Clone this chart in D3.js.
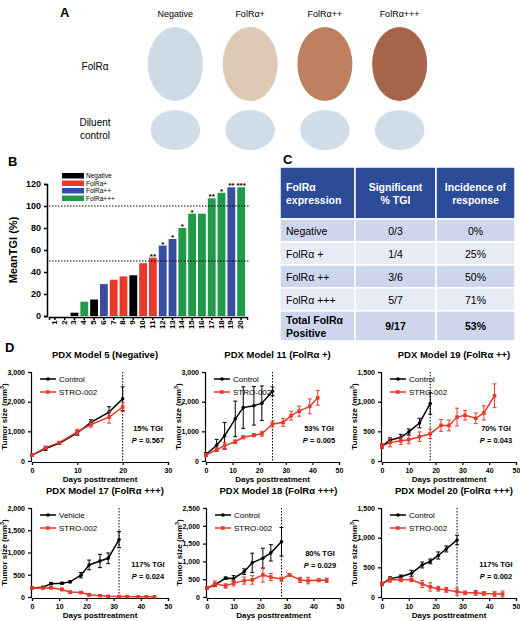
<!DOCTYPE html>
<html><head><meta charset="utf-8">
<script src="https://cdn.jsdelivr.net/npm/d3@7"></script>
<style>body{margin:0;background:#fff}text{font-family:"Liberation Sans",Arial,sans-serif}</style>
</head><body><svg id="fig" width="520" height="621"></svg>
<script>
// panel A
const stainCols = ["Negative", "FolR\u03b1+", "FolR\u03b1++", "FolR\u03b1+++"];
const stainColors = ["#c6d4e2", "#d8bfa8", "#b36b43", "#96492a"];
// panel B
const modelIds = d3.range(1, 21).map(String);
const meanTGI = [0,0,3,13,15,29,33,36,37,48,53,64,70,80,93,93,107,112,117,117];
const groups = ["Negative","Negative","Negative","FolRa+++","Negative","FolRa++","FolRa+","FolRa+","Negative","FolRa+","FolRa+","FolRa++","FolRa++","FolRa+++","FolRa+++","FolRa+++","FolRa+++","FolRa+++","FolRa++","FolRa+++"];
const stars = ["","","","","","","","","","","**","*","*","*","*","","**","*","**","***"];
const groupNames = ["Negative","FolRa+","FolRa++","FolRa+++"];
const groupColors = ["#000000","#e8392a","#3a4ea0","#1f9a48"];
// panel C
const tableHead = ["FolR\u03b1\nexpression","Significant\n% TGI","Incidence of\nresponse"];
const tableRows = [["Negative","0/3","0%"],["FolR\u03b1 +","1/4","25%"],["FolR\u03b1 ++","3/6","50%"],["FolR\u03b1 +++","5/7","71%"],["Total FolR\u03b1\nPositive","9/17","53%"]];
// panel D
const panels = [
 {title:"PDX Model 5 (Negative)", ymax:3000, ystep:1000, xmax:30, cut:20, names:["Control","STRO-002"], tgi:"15% TGI", p:"0.567",
  cd:[0,3,6,10,13,17,20], cv:[200,420,600,950,1300,1650,2100], ce:[30,60,40,80,90,180,400],
  sd:[0,3,6,10,13,17,20], sv:[200,450,620,980,1230,1480,1820], se:[30,50,40,90,90,200,150]},
 {title:"PDX Model 11 (FolR\u03b1 +)", ymax:3000, ystep:1000, xmax:50, cut:25, names:["Control","STRO-002"], tgi:"53% TGI", p:"0.005",
  cd:[0,4,7,11,14,18,21,25], cv:[220,530,850,1420,1800,1860,1950,2350], ce:[60,200,450,600,700,650,580,150],
  sd:[0,4,7,11,14,18,21,25,29,32,35,39,42], sv:[200,380,520,650,800,870,920,1250,1300,1530,1680,1840,2130], se:[50,60,100,60,50,50,80,100,130,150,170,250,250]},
 {title:"PDX Model 19 (FolR\u03b1 ++)", ymax:1500, ystep:500, xmax:50, cut:18, names:["Control","STRO-002"], tgi:"70% TGI", p:"0.043",
  cd:[0,3,7,10,14,18], cv:[250,350,400,490,640,970], ce:[30,40,50,50,80,180],
  sd:[0,3,7,10,14,18,22,25,28,31,35,38,42], sv:[250,310,340,360,410,460,600,600,740,770,720,810,1100], se:[40,70,60,70,80,80,100,90,150,80,90,120,200]},
 {title:"PDX Model 17 (FolR\u03b1 +++)", ymax:2000, ystep:500, xmax:50, cut:32, names:["Vehicle","STRO-002"], tgi:"117% TGI", p:"0.024",
  cd:[0,4,7,11,14,18,21,25,28,32], cv:[200,220,300,310,340,490,720,810,870,1290], ce:[20,20,20,20,20,60,110,150,120,180],
  sd:[0,4,7,11,14,18,21,25,28,32,35,39,42,45], sv:[200,200,210,170,110,100,50,30,15,10,10,5,5,5], se:[20,20,30,30,20,20,30,20,10,10,10,5,5,5]},
 {title:"PDX Model 18 (FolR\u03b1 +++)", ymax:2500, ystep:500, xmax:50, cut:28, names:["Control","STRO-002"], tgi:"80% TGI", p:"0.029",
  cd:[0,3,7,10,14,17,21,24,28], cv:[250,340,530,520,710,960,1090,1240,1550], ce:[30,40,30,80,80,270,280,230,400],
  sd:[0,3,7,10,14,17,21,24,28,31,35,38,42,45], sv:[250,370,310,390,460,480,620,560,500,620,480,460,470,470], se:[30,80,60,80,100,120,200,100,60,40,70,90,40,60]},
 {title:"PDX Model 20 (FolR\u03b1 +++)", ymax:1500, ystep:500, xmax:50, cut:28, names:["Control","STRO-002"], tgi:"117% TGI", p:"0.002",
  cd:[0,3,7,11,15,18,21,24,28], cv:[220,310,340,400,540,600,700,810,960], ce:[20,30,30,50,50,40,60,50,80],
  sd:[0,3,7,11,15,18,21,24,28,31,35,38,42,45], sv:[220,290,290,290,220,170,140,120,90,70,70,60,50,50], se:[30,40,30,30,60,70,40,40,60,30,40,30,40,50]}
];

const svg = d3.select("#fig");
const bold = (sel) => sel.attr("font-weight", "bold");

// ---- A ----
bold(svg.append("text").attr("x", 60).attr("y", 17).attr("font-size", 13).text("A"));
const ax = d3.scaleBand().domain(stainCols).range([135, 440]).padding(0.08);
stainCols.forEach((c, i) => {
  svg.append("text").attr("x", ax(c) + ax.bandwidth() / 2).attr("y", 17).attr("font-size", 9)
    .attr("text-anchor", "middle").text(c);
  svg.append("ellipse").attr("cx", ax(c) + ax.bandwidth() / 2).attr("cy", 64)
    .attr("rx", ax.bandwidth() * 0.4).attr("ry", 37).attr("fill", stainColors[i]).attr("opacity", 0.85);
  svg.append("ellipse").attr("cx", ax(c) + ax.bandwidth() / 2).attr("cy", 130)
    .attr("rx", ax.bandwidth() * 0.36).attr("ry", 20).attr("fill", stainColors[0]).attr("opacity", 0.8);
});
svg.append("text").attr("x", 95).attr("y", 70).attr("font-size", 10).attr("text-anchor", "middle").text("FolR\u03b1");
svg.append("text").attr("x", 95).attr("y", 126).attr("font-size", 10).attr("text-anchor", "middle").text("Diluent");
svg.append("text").attr("x", 95).attr("y", 139).attr("font-size", 10).attr("text-anchor", "middle").text("control");

// ---- B ----
bold(svg.append("text").attr("x", 8).attr("y", 166).attr("font-size", 13).text("B"));
const bx = d3.scaleBand().domain(modelIds).range([49, 247]).padding(0.2);
const by = d3.scaleLinear().domain([0, 120]).range([316, 184]);
const bColor = d3.scaleOrdinal().domain(groupNames).range(groupColors);
const gB = svg.append("g");
gB.selectAll("rect.bar").data(meanTGI).join("rect").attr("class", "bar")
  .attr("x", (d, i) => bx(modelIds[i])).attr("width", bx.bandwidth())
  .attr("y", d => by(d)).attr("height", d => by(0) - by(d)).attr("fill", (d, i) => bColor(groups[i]));
gB.selectAll("text.star").data(meanTGI).join("text").attr("class", "star")
  .attr("x", (d, i) => bx(modelIds[i]) + bx.bandwidth() / 2).attr("y", d => by(d) + 1)
  .attr("text-anchor", "middle").attr("font-size", 8).attr("font-weight", "bold").text((d, i) => stars[i]);
[50, 100].forEach(v => gB.append("line").attr("x1", 49).attr("x2", 250).attr("y1", by(v)).attr("y2", by(v))
  .attr("stroke", "#000").attr("stroke-dasharray", "1.5,1.5"));
const yB = gB.append("g").attr("transform", "translate(47,0)").call(d3.axisLeft(by).tickValues(d3.range(0, 121, 20)).tickSize(3));
yB.selectAll("text").attr("font-size", 9).attr("font-weight", "bold");
const xB = gB.append("g").attr("transform", "translate(0,317)").call(d3.axisBottom(bx).tickSize(3));
xB.selectAll("text").attr("font-size", 8).attr("font-weight", "bold").attr("transform", "rotate(-90)")
  .attr("text-anchor", "end").attr("dx", "-0.4em").attr("dy", "-0.5em");
[yB, xB].forEach(a => a.selectAll("path,line").attr("stroke-width", 1.5));
bold(svg.append("text").attr("transform", "translate(17,250) rotate(-90)").attr("text-anchor", "middle")
  .attr("font-size", 11).text("MeanTGI (%)"));
groupNames.forEach((g, i) => {
  svg.append("rect").attr("x", 62).attr("y", 173 + i * 7.5).attr("width", 22).attr("height", 5.5).attr("fill", groupColors[i]);
  svg.append("text").attr("x", 86).attr("y", 178 + i * 7.5).attr("font-size", 6.5).text(g);
});

// ---- C ----
bold(svg.append("text").attr("x", 283).attr("y", 164).attr("font-size", 13).text("C"));
const cx = [280, 355, 436, 515];
const rowH = [52, 23, 23, 23, 23, 30];
let ry = 167;
[tableHead].concat(tableRows).forEach((row, r) => {
  const fill = r === 0 ? "#2d4c97" : (r % 2 ? "#cdd6ec" : "#e7ebf5");
  row.forEach((cell, c) => {
    svg.append("rect").attr("x", cx[c]).attr("y", ry).attr("width", cx[c + 1] - cx[c]).attr("height", rowH[r])
      .attr("fill", fill).attr("stroke", "#fff").attr("stroke-width", 1.5);
    const lines = cell.split("\n");
    const t = svg.append("text").attr("font-size", 10.5).attr("fill", r === 0 ? "#fff" : "#000")
      .attr("font-weight", (r === 0 || r === 5) ? "bold" : "normal")
      .attr("text-anchor", c === 0 ? "start" : "middle");
    lines.forEach((l, k) => t.append("tspan").attr("x", c === 0 ? cx[c] + 6 : (cx[c] + cx[c + 1]) / 2)
      .attr("y", ry + rowH[r] / 2 + 4 + (k - (lines.length - 1) / 2) * 13).text(l));
  });
  ry += rowH[r];
});

// ---- D ----
bold(svg.append("text").attr("x", 5).attr("y", 352).attr("font-size", 13).text("D"));
const boxes = [[32, 168, 372, 461], [206, 339, 372, 461], [382, 516, 372, 461],
               [32, 168, 508, 597], [207, 340, 508, 597], [382, 516, 508, 597]];
const fmt = d3.format(",");
panels.forEach((p, i) => {
  const [x0, x1, y0, y1] = boxes[i];
  const x = d3.scaleLinear().domain([0, p.xmax]).range([x0, x1]);
  const y = d3.scaleLinear().domain([0, p.ymax]).range([y1, y0]);
  const g = svg.append("g");
  bold(g.append("text").attr("x", (x0 + x1) / 2 + 5).attr("y", y0 - 14).attr("text-anchor", "middle").attr("font-size", 9.5).text(p.title));
  const ya = g.append("g").attr("transform", `translate(${x0 - 1},0)`).call(d3.axisLeft(y).tickValues(d3.range(0, p.ymax + 1, p.ystep)).tickFormat(fmt).tickSize(3));
  const xa = g.append("g").attr("transform", `translate(0,${y1 + 1})`).call(d3.axisBottom(x).ticks(p.xmax / 10).tickSize(3));
  [ya, xa].forEach(a => { a.selectAll("text").attr("font-size", 7).attr("font-weight", "bold"); a.selectAll("path,line").attr("stroke-width", 1.2); });
  bold(g.append("text").attr("x", (x0 + x1) / 2).attr("y", y1 + 21).attr("text-anchor", "middle").attr("font-size", 8).text("Days posttreatment"));
  const yl = g.append("text").attr("transform", `translate(${x0 - 25},${(y0 + y1) / 2}) rotate(-90)`).attr("text-anchor", "middle").attr("font-size", 8).attr("font-weight", "bold");
  yl.append("tspan").text("Tumor size (mm");
  yl.append("tspan").attr("font-size", 5.5).attr("dy", -3).text("3");
  yl.append("tspan").attr("dy", 3).text(")");
  g.append("line").attr("x1", x(p.cut)).attr("x2", x(p.cut)).attr("y1", y0).attr("y2", y1)
    .attr("stroke", "#000").attr("stroke-dasharray", "1.5,1.5");
  [[p.cd, p.cv, p.ce, "#000", "circle"], [p.sd, p.sv, p.se, "#e8392a", "square"]].forEach(([dd, vv, ee, col, shp]) => {
    const pts = dd.map((d, k) => ({d, v: vv[k], e: ee[k]}));
    g.append("path").datum(pts).attr("fill", "none").attr("stroke", col).attr("stroke-width", 1.5)
      .attr("d", d3.line().x(q => x(q.d)).y(q => y(q.v)));
    g.selectAll(null).data(pts).join("path").attr("stroke", col).attr("stroke-width", 1).attr("fill", "none")
      .attr("d", q => `M${x(q.d)},${y(q.v - q.e)}V${y(q.v + q.e)}M${x(q.d) - 2},${y(q.v - q.e)}h4M${x(q.d) - 2},${y(q.v + q.e)}h4`);
    if (shp === "circle") g.selectAll(null).data(pts).join("circle").attr("cx", q => x(q.d)).attr("cy", q => y(q.v)).attr("r", 1.8).attr("fill", col);
    else g.selectAll(null).data(pts).join("rect").attr("x", q => x(q.d) - 1.8).attr("y", q => y(q.v) - 1.8).attr("width", 3.6).attr("height", 3.6).attr("fill", col);
  });
  p.names.forEach((n, k) => {
    const ly = y0 + 7 + k * 13, col = k ? "#e8392a" : "#000";
    g.append("line").attr("x1", x0 + 8).attr("x2", x0 + 24).attr("y1", ly).attr("y2", ly).attr("stroke", col).attr("stroke-width", 1.5);
    if (k) g.append("rect").attr("x", x0 + 14).attr("y", ly - 1.8).attr("width", 3.6).attr("height", 3.6).attr("fill", col);
    else g.append("circle").attr("cx", x0 + 16).attr("cy", ly).attr("r", 1.8).attr("fill", col);
    g.append("text").attr("x", x0 + 27).attr("y", ly + 3).attr("font-size", 8).text(n);
  });
  const tx = x1 - 20, ty = i === 4 ? y0 + 48 : y1 - 30;
  bold(g.append("text").attr("x", tx).attr("y", ty).attr("text-anchor", "middle").attr("font-size", 7.5).text(p.tgi));
  const pt = g.append("text").attr("x", tx).attr("y", ty + 12).attr("text-anchor", "middle").attr("font-size", 7.5).attr("font-weight", "bold");
  pt.append("tspan").attr("font-style", "italic").text("P");
  pt.append("tspan").text(" = " + p.p);
});
</script></body></html>
